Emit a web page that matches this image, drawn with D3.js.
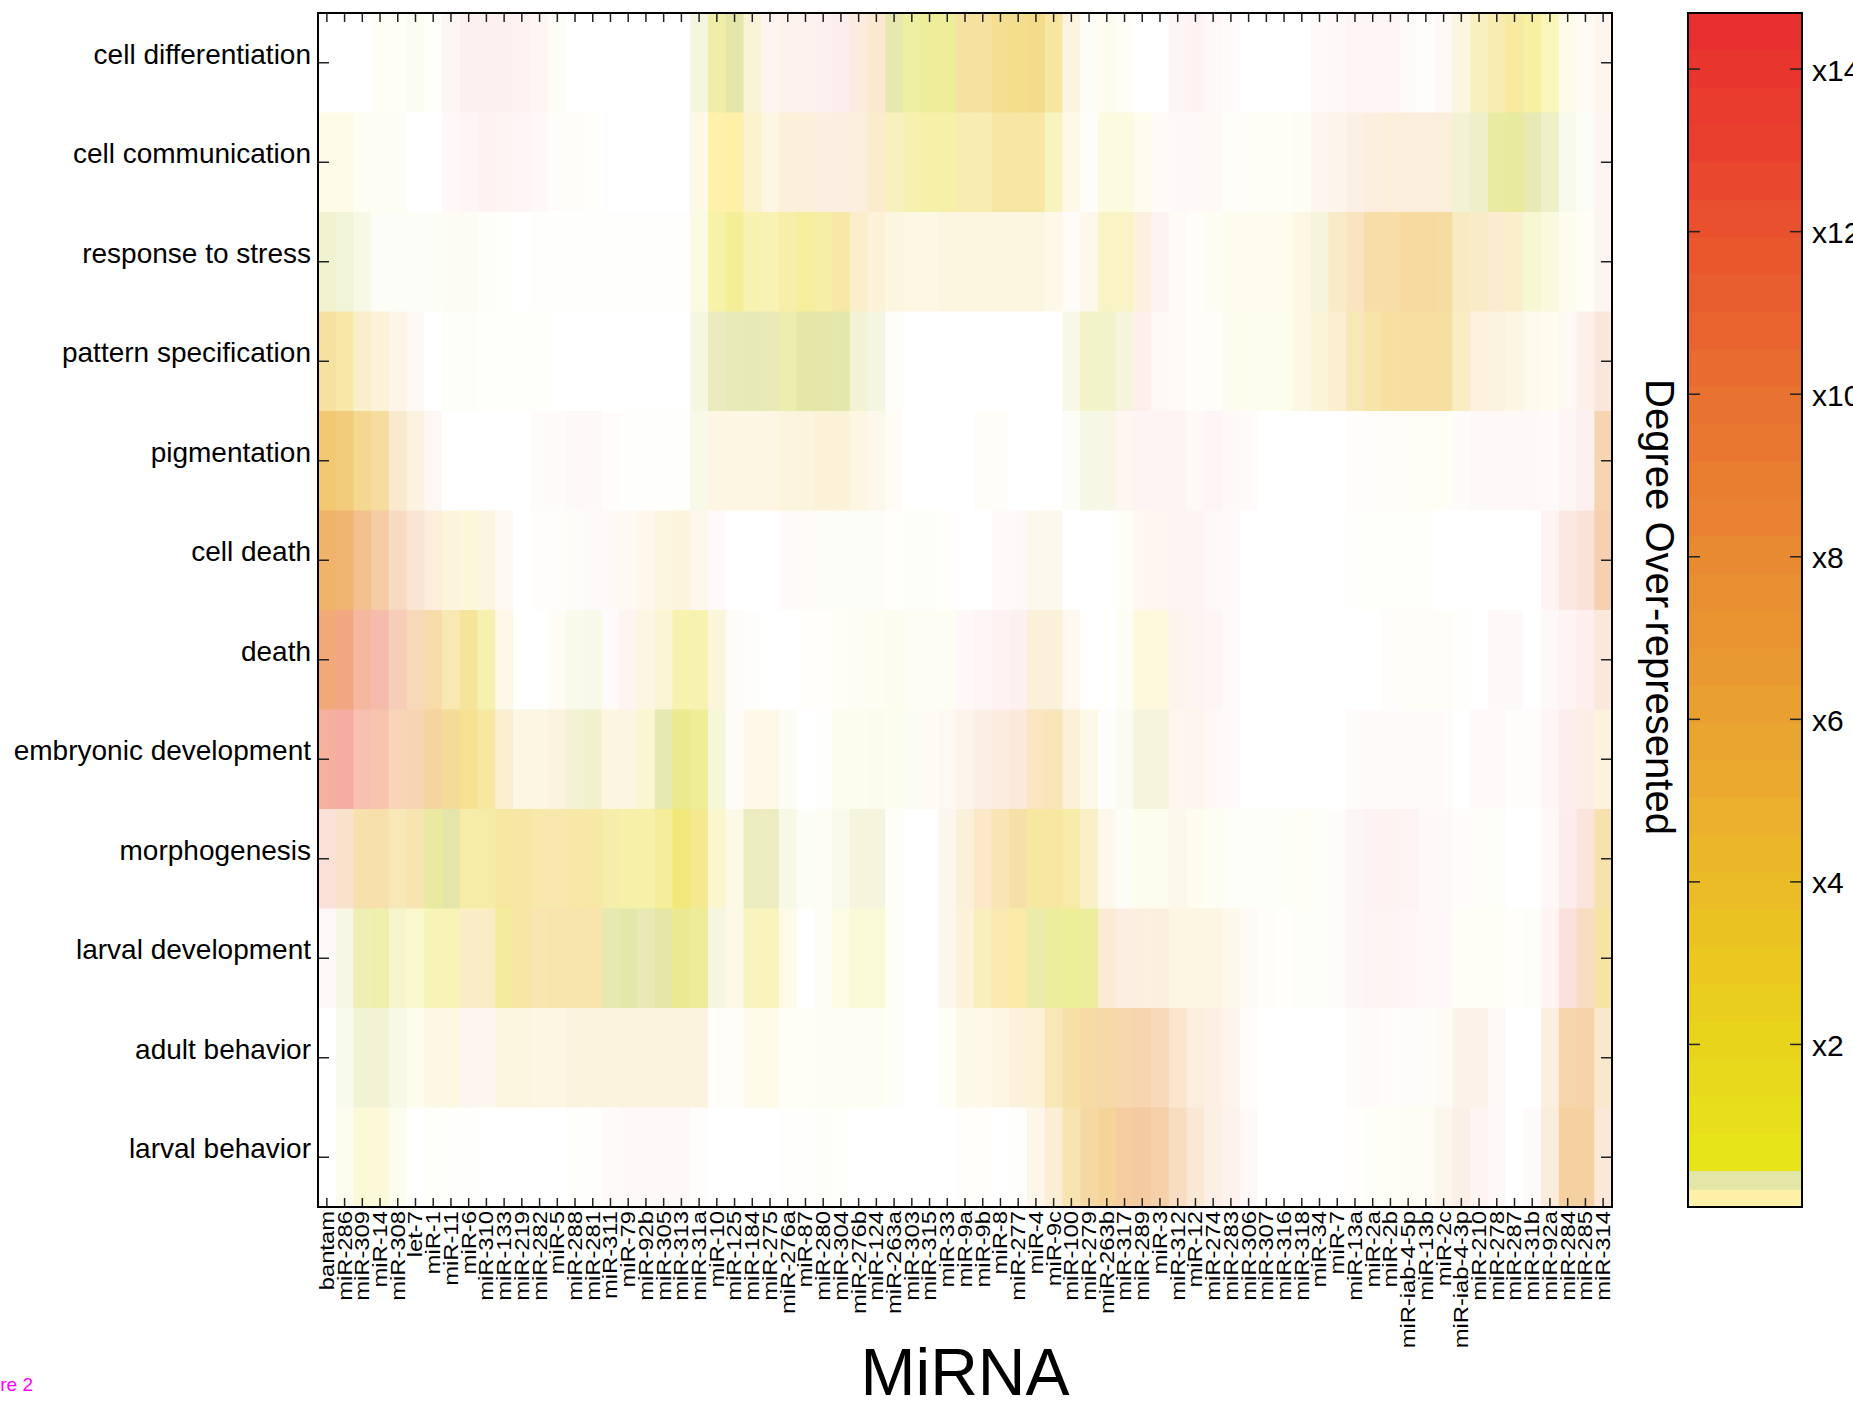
<!DOCTYPE html>
<html>
<head>
<meta charset="utf-8">
<script src="https://cdn.jsdelivr.net/npm/d3@7"></script>
<style>
  body { margin: 0; background: #fff; }
  svg { display: block; }
  text { font-family: "Liberation Sans", Arial, sans-serif; fill: #000; }
</style>
</head>
<body>
<div id="vis"></div>
<script>
// GO terms (rows) and miRNAs (columns)
var terms = ["cell differentiation", "cell communication", "response to stress", "pattern specification",
  "pigmentation", "cell death", "death", "embryonic development", "morphogenesis",
  "larval development", "adult behavior", "larval behavior"];

var mirnas = ["bantam", "miR-286", "miR-309", "miR-14", "miR-308", "let-7", "miR-1", "miR-11", "miR-6", "miR-310",
  "miR-133", "miR-219", "miR-282", "miR-5", "miR-288", "miR-281", "miR-311", "miR-79", "miR-92b", "miR-305",
  "miR-313", "miR-31a", "miR-10", "miR-125", "miR-184", "miR-275", "miR-276a", "miR-87", "miR-280", "miR-304",
  "miR-276b", "miR-124", "miR-263a", "miR-303", "miR-315", "miR-33", "miR-9a", "miR-9b", "miR-8", "miR-277",
  "miR-4", "miR-9c", "miR-100", "miR-279", "miR-263b", "miR-317", "miR-289", "miR-3", "miR-312", "miR-12",
  "miR-274", "miR-283", "miR-306", "miR-307", "miR-316", "miR-318", "miR-34", "miR-7", "miR-13a", "miR-2a",
  "miR-2b", "miR-iab-4-5p", "miR-13b", "miR-2c", "miR-iab-4-3p", "miR-210", "miR-278", "miR-287", "miR-31b", "miR-92a",
  "miR-284", "miR-285", "miR-314"];

// degree of over-representation (colour position) per cell
var foldRows = [
  [0,0,0,2,2,0.33,0.33,14.5,14.5,14.5,
   14.5,14.5,11,0.33,0,0,0,0,0,0,
   0,0.33,0.45,0.33,4,12,10.5,11,14.5,14.5,
   8.5,6,0.33,0.5,0.5,0.5,4,4,3.8,3.7,
   4,3.3,4.6,0.33,2,1,0,0,14.5,14.5,
   14.5,14.5,0,0,0,0,14.5,14.5,14.5,14.5,
   14.5,14.5,14.5,10,3.8,3,3,2.5,1.5,0.8,
   1,6,9],
  [1.7,1.7,2,2,2,0,0,14.5,14.5,14.5,
   14.5,14.5,12,5.5,5.5,1,0,0,0,0,
   0,3,0.11,0.11,3,4.2,5,5,7.7,7.7,
   5.7,5,3,1.9,1.7,1.7,3,3,3.2,3.2,
   3,1.7,3.8,5,1.5,1.5,1.5,6,14.5,11,
   11,3,3,1,1,1,7.5,8,8,7,
   6,6.5,6.5,6.5,0.33,0.33,0.4,0.4,0.33,0.33,
   0.33,0.33,12],
  [0.33,0.33,0.33,0.33,0.33,0.33,0.33,0.33,0.33,0.33,
   0.33,0,0.33,0.33,0.33,0.33,0.33,0.33,0.33,0.33,
   0.33,2.5,1.2,1.6,1.5,1.6,2,2,2.1,3.3,
   4.3,4.3,3.8,3.3,3.3,3.8,3.8,3.8,3.8,3.8,
   3.8,3.5,6,5,2.5,2.5,5.5,11.5,6,3,
   2,1.5,1.3,1.3,1.3,3.3,0.33,4.6,5.4,5.2,
   5,5,5,5,4.3,4.6,5.3,4.3,0.45,0.5,
   2,3,12],
  [4,3.3,4.3,4.3,5.7,10,0,0.33,0.33,0.33,
   0.33,0.33,0.33,0,0,0,0,0,0,0,
   0,0.33,0.33,0.33,0.33,0.33,0.4,0.35,0.33,0.33,
   0.33,0.33,5,0,0,0,0,0,0,0,
   0,0,0.33,0.4,0.4,0.33,11.5,9,7,5,
   5,2,0.8,0.8,0.8,3.3,3.5,4.8,4.2,4,
   4.3,4.3,4.3,4.3,3.8,5,5.5,4,3.3,3,
   9,10.3,10.3],
  [5.1,5.1,4.7,4.7,5.5,6,9,0,0,0,
   0,0,14.5,14.5,14.5,14.5,12,0.33,0.33,0.33,
   0.33,0.33,4.2,4.3,4.3,4.3,4,4,4.3,4.3,
   4.3,5,3,0,0,0,0,3,3,0,
   0,0,0.33,0.33,0.33,8.5,14.5,14.5,14.5,11,
   14.5,14.5,14.5,0,0,0,0,0,5,5,
   3,3,1,1,14.5,14.5,14.5,14.5,14.5,14.5,
   14.5,12.7,7.5],
  [6.8,7,7.6,8,8.8,8.5,6.6,3.8,3.3,3.8,
   5.5,0,5,5,6,12,14.5,6.8,5.3,3.8,
   3.8,5.8,14.5,0,0,0,14.5,10,0.33,0.33,
   0.33,0.33,1,1,1,1,0,0,14.5,14.5,
   5.5,5,0,0,0,1,6.2,8.5,14.5,14.5,
   14.5,14.5,0,0,0,0,0,0,0.33,0.33,
   0.33,0.33,0.33,0,0,0,0,0,0,14.5,
   11.3,11.2,8.3],
  [9.2,10,10.8,11.7,10.4,7.7,5.3,3.8,3.3,1.9,
   3.5,0,0,3,0.33,0.33,12,12,4.3,3.3,
   1.5,1.5,2.8,6,5,0,0,1,1,1,
   1,1,1,1,0.5,0.5,14.5,14.5,14.5,14.5,
   5,5,6.2,0,0,0.5,2,2,9.3,14.5,
   14.5,14.5,0,0,0,0,0,0,0,0,
   5,3,3,3,0.33,0,14.5,14.5,0,14.5,
   14.5,13.4,9.5],
  [12,12.9,11.5,10.8,8.7,7.5,6,4.5,3.5,3,
   4.8,4.3,4.3,4.7,0.33,0.33,4.2,4.2,2,0.33,
   0.45,0.5,0.4,6,3.5,3.5,0.33,0,0.33,1,
   0.7,0.5,0.5,0.33,5.5,7.5,8,9,8.7,8.5,
   5,4.8,5,3.8,0.33,0.33,0.33,0.33,8.5,7.5,
   14.5,14.5,0,0,0,0,0,0,14.5,14.5,
   14.5,14.5,14.5,14.5,0,14.5,14.5,14.5,14.5,14.5,
   14.5,9,5],
  [11.4,8,4.8,4.8,4.2,4.5,0.4,0.33,2.5,2.5,
   3,3.3,3.5,3.3,3.2,3.2,2.5,1.7,1.7,1.8,
   1.7,2.2,1.7,3.8,0.33,0.33,0.33,0.33,0.5,0.33,
   0.33,0.33,1,0,0,7.5,5,5.5,4.8,4.6,
   3,3,2.5,3.5,5,0.33,0.7,0.5,5,3,
   2,1,1,1,1,1,0.5,9,14.5,14.5,
   14.5,14.5,14.5,14.5,12,5,1,0,0,14.5,
   14.5,11,4.6],
  [14.5,0.33,0.4,0.45,0.45,1.4,1.6,1.6,4.3,4.3,
   2.2,3.2,4.2,4.1,4.1,4.1,0.33,0.33,0.33,0.35,
   0.45,0.45,0.33,3.8,1.6,1.6,1.5,0,1,1.5,
   1,1,1,0,0,7.5,4.3,3,3.4,2.8,
   0.4,0.45,0.5,0.45,6,7.7,7.3,7,4.3,4.3,
   4.3,5,6,5,1,1,0.5,9,14.5,14.5,
   14.5,14.5,14.5,14.5,3,3,1,1,1,12,
   12.7,7.8,3.8],
  [0,0.33,0.33,0.33,0.33,1.7,3.3,3.3,7.5,7.5,
   3.8,3.8,4.3,4.3,4.7,4.7,4.7,4.7,4.7,4.7,
   4.7,4.7,3,3,1.7,1.7,1,1,0.5,0.5,
   0.5,0.5,1,0,0,2,3.8,3.8,4.3,5,
   4.3,4.2,4.5,5.2,5.8,6.5,7.5,7.5,6.6,6.6,
   7.8,9.3,10,0,0,0,0,0,14.5,14.5,
   10,8,6,6,8.8,8.8,11,0,0,7.3,
   6.6,6.8,6],
  [0,1,1.4,1.4,1,0,0.33,0.33,0.33,0,
   0,0,0,0,0.33,0.33,14.5,14.5,14.5,14.5,
   14.5,14.5,0,0,0,0,0.33,0.33,0.33,0.33,
   0,0,0,0,0,0,1,1,0,0.33,
   5.7,5.3,4.5,5.5,5.5,7.2,7.8,7.5,7.8,7.5,
   8.3,11,14.5,0,0,0,0,0,1,1,
   1,1,0.5,6.5,8.5,12,14.5,0,12,7.5,
   6.7,6.7,8.3]
];

// strength of each cell (how far it is from white)
var alphaRows = [
  [0,0,0,0.04,0.04,0.14,0.05,0.05,0.07,0.07,
   0.07,0.06,0.06,0.1,0,0,0,0,0,0,
   0,0.36,0.64,1,0.18,0.06,0.09,0.08,0.07,0.08,
   0.15,0.23,0.91,0.6,0.65,0.65,0.44,0.44,0.51,0.53,
   0.53,0.43,0.15,0.1,0.07,0.04,0,0,0.045,0.06,
   0.035,0.02,0,0,0,0,0.025,0.035,0.05,0.045,
   0.045,0.025,0.015,0.045,0.14,0.28,0.35,0.42,0.42,0.31,
   0.1,0.045,0.08],
  [0.1,0.1,0.05,0.05,0.045,0,0,0.035,0.045,0.06,
   0.055,0.045,0.035,0.025,0.025,0.02,0,0,0,0,
   0,0.11,0.95,1,0.23,0.13,0.18,0.18,0.15,0.15,
   0.17,0.24,0.28,0.35,0.38,0.38,0.35,0.35,0.41,0.41,
   0.41,0.28,0.1,0.03,0.14,0.14,0.08,0.04,0.035,0.04,
   0.04,0.03,0.03,0.04,0.04,0.05,0.08,0.09,0.13,0.15,
   0.17,0.17,0.17,0.17,0.5,0.6,0.8,0.84,0.86,0.62,
   0.2,0.1,0.06],
  [0.54,0.45,0.29,0.1,0.08,0.08,0.08,0.12,0.12,0.06,
   0.05,0,0.03,0.03,0.03,0.03,0.03,0.03,0.03,0.03,
   0.03,0.12,0.38,0.45,0.35,0.33,0.38,0.43,0.4,0.39,
   0.24,0.18,0.14,0.12,0.12,0.14,0.14,0.14,0.14,0.14,
   0.14,0.11,0.03,0.09,0.26,0.26,0.16,0.07,0.04,0.03,
   0.05,0.07,0.08,0.08,0.08,0.12,0.4,0.26,0.31,0.41,
   0.42,0.46,0.46,0.44,0.29,0.26,0.22,0.24,0.32,0.22,
   0.07,0.04,0.06],
  [0.44,0.39,0.24,0.18,0.11,0.05,0,0.06,0.06,0.05,
   0.05,0.05,0.05,0,0,0,0,0,0,0,
   0,0.33,0.76,0.82,0.84,0.82,0.7,0.95,1,0.95,
   0.5,0.35,0.03,0,0,0,0,0,0,0,
   0,0,0.3,0.5,0.48,0.4,0.09,0.05,0.04,0.03,
   0.03,0.06,0.08,0.08,0.08,0.12,0.18,0.22,0.33,0.4,
   0.44,0.44,0.44,0.44,0.27,0.16,0.15,0.13,0.08,0.07,
   0.05,0.1,0.17],
  [0.67,0.63,0.52,0.46,0.24,0.14,0.05,0,0,0,
   0,0,0.02,0.02,0.03,0.03,0.02,0.04,0.03,0.03,
   0.03,0.26,0.13,0.13,0.13,0.13,0.16,0.16,0.18,0.18,
   0.13,0.09,0.05,0,0,0,0,0.03,0.03,0,
   0,0,0.1,0.31,0.31,0.07,0.055,0.055,0.055,0.04,
   0.045,0.035,0.02,0,0,0,0,0,0.02,0.025,
   0.03,0.03,0.04,0.04,0.02,0.03,0.035,0.035,0.035,0.025,
   0.05,0.08,0.38],
  [0.73,0.69,0.55,0.44,0.3,0.21,0.17,0.16,0.16,0.14,
   0.06,0,0.02,0.03,0.03,0.03,0.03,0.06,0.09,0.14,
   0.16,0.08,0.025,0,0,0,0.02,0.03,0.08,0.08,
   0.08,0.1,0.02,0.03,0.03,0.02,0,0,0.025,0.035,
   0.08,0.09,0,0,0,0.03,0.07,0.07,0.055,0.055,
   0.03,0.025,0,0,0,0,0,0,0.05,0.05,
   0.05,0.05,0.05,0,0,0,0,0,0,0.055,
   0.14,0.18,0.38],
  [0.65,0.61,0.46,0.4,0.34,0.34,0.41,0.36,0.46,0.35,
   0.11,0,0,0.05,0.22,0.26,0.03,0.06,0.13,0.19,
   0.35,0.35,0.17,0.03,0.02,0,0,0.02,0.02,0.04,
   0.05,0.06,0.07,0.05,0.07,0.07,0.035,0.045,0.06,0.07,
   0.18,0.18,0.07,0,0,0.08,0.15,0.15,0.08,0.055,
   0.05,0.025,0,0,0,0,0,0,0,0,
   0.02,0.03,0.03,0.03,0.03,0,0.035,0.03,0,0.03,
   0.055,0.08,0.17],
  [0.46,0.44,0.38,0.38,0.34,0.38,0.46,0.48,0.5,0.42,
   0.22,0.13,0.13,0.15,0.5,0.55,0.14,0.14,0.21,0.9,
   0.82,0.66,0.34,0.03,0.11,0.11,0.13,0,0.04,0.07,
   0.08,0.12,0.1,0.13,0.05,0.06,0.09,0.13,0.15,0.17,
   0.31,0.33,0.19,0.1,0.06,0.15,0.4,0.4,0.07,0.08,
   0.035,0.025,0,0,0,0,0,0,0.02,0.02,
   0.02,0.02,0.02,0.02,0,0.025,0.025,0.015,0.015,0.05,
   0.08,0.13,0.16],
  [0.19,0.25,0.4,0.4,0.33,0.37,0.83,1,0.39,0.39,
   0.42,0.41,0.38,0.37,0.39,0.4,0.38,0.38,0.38,0.45,
   0.59,0.49,0.21,0.1,0.72,0.72,0.3,0.1,0.07,0.22,
   0.4,0.4,0.04,0,0,0.08,0.18,0.26,0.35,0.41,
   0.42,0.42,0.39,0.25,0.09,0.08,0.08,0.1,0.09,0.07,
   0.05,0.03,0.03,0.03,0.03,0.04,0.04,0.025,0.045,0.06,
   0.06,0.055,0.035,0.035,0.02,0.03,0.03,0,0,0.035,
   0.09,0.17,0.38],
  [0.03,0.31,0.65,0.6,0.38,0.21,0.32,0.32,0.26,0.26,
   0.44,0.41,0.37,0.38,0.38,0.38,0.9,0.95,0.86,0.95,
   0.8,0.75,0.35,0.1,0.28,0.3,0.11,0,0.05,0.12,
   0.17,0.17,0.04,0,0,0.08,0.18,0.3,0.36,0.39,
   0.75,0.7,0.66,0.7,0.21,0.15,0.15,0.15,0.13,0.13,
   0.13,0.09,0.04,0.025,0.02,0.03,0.04,0.025,0.045,0.055,
   0.055,0.045,0.035,0.035,0.04,0.04,0.04,0.02,0.03,0.06,
   0.17,0.3,0.42],
  [0,0.2,0.48,0.48,0.3,0.08,0.12,0.12,0.08,0.08,
   0.14,0.14,0.13,0.13,0.15,0.15,0.15,0.15,0.15,0.15,
   0.15,0.15,0.03,0.03,0.1,0.1,0.04,0.04,0.06,0.07,
   0.08,0.08,0.03,0,0,0.04,0.1,0.1,0.13,0.17,
   0.18,0.33,0.42,0.43,0.42,0.4,0.38,0.34,0.25,0.17,
   0.13,0.08,0.02,0,0,0,0,0,0.02,0.02,
   0.02,0.025,0.03,0.04,0.1,0.1,0.04,0,0,0.15,
   0.4,0.42,0.25],
  [0,0.07,0.17,0.17,0.07,0,0.05,0.05,0.03,0,
   0,0,0,0,0.05,0.03,0.02,0.03,0.03,0.03,
   0.03,0.015,0,0,0,0,0.04,0.04,0.07,0.05,
   0,0,0,0,0,0,0.02,0.02,0,0.03,
   0.1,0.2,0.37,0.45,0.49,0.46,0.46,0.42,0.3,0.21,
   0.13,0.08,0.035,0,0,0,0,0,0.02,0.03,
   0.04,0.05,0.06,0.09,0.12,0.06,0.035,0,0.03,0.17,
   0.46,0.46,0.19]
];

// colour map (as on the colour bar) and its ticks
var cmapStops = [0, 0.11, 0.33, 0.68, 1, 2, 3, 4, 5, 6, 7, 8, 9, 10, 11, 12, 13, 14.69];
var cmapColors = ["#fff0a8", "#fff0a8", "#e3e6a8", "#e8e41a", "#e8e01b", "#e9d51c", "#eac81f", "#ebbb26",
  "#ebae2e", "#eaa131", "#e99531", "#e88a31", "#e97c30", "#e8702f", "#e9612e", "#e9532d", "#e9412e", "#e82e2e"];
var cbTicks = [2, 4, 6, 8, 10, 12, 14];
var cbMax = 14.69;

var W = 1853, H = 1402;
var plot = {left: 318, top: 13, right: 1612, bottom: 1207};
var cb = {left: 1688, right: 1802};

var svg = d3.select("#vis").append("svg")
    .attr("width", W)
    .attr("height", H);

var x = d3.scaleBand().domain(d3.range(mirnas.length)).range([plot.left, plot.right]);
var y = d3.scaleBand().domain(d3.range(terms.length)).range([plot.top, plot.bottom]);

var cmap = d3.scaleLinear().domain(cmapStops).range(cmapColors)
    .interpolate(d3.interpolateRgb).clamp(true);

function cellColor(v, a) {
  return d3.interpolateRgb("#ffffff", cmap(v))(a);
}

// heatmap cells
var cells = [];
foldRows.forEach(function(row, i) {
  row.forEach(function(v, j) {
    cells.push({row: i, col: j, v: v, a: alphaRows[i][j]});
  });
});

svg.append("g").selectAll("rect")
  .data(cells)
  .enter().append("rect")
    .attr("x", function(d) { return x(d.col); })
    .attr("y", function(d) { return y(d.row); })
    .attr("width", x.bandwidth() + 0.6)
    .attr("height", y.bandwidth() + 0.6)
    .style("fill", function(d) { return cellColor(d.v, d.a); });

// ticks (inside, on all four sides)
var ticks = svg.append("g").attr("stroke", "#222").attr("stroke-width", 1.5);
mirnas.forEach(function(m, j) {
  var cx = x(j) + x.bandwidth() / 2;
  ticks.append("line").attr("x1", cx).attr("x2", cx).attr("y1", plot.bottom).attr("y2", plot.bottom - 9);
  ticks.append("line").attr("x1", cx).attr("x2", cx).attr("y1", plot.top).attr("y2", plot.top + 9);
});
terms.forEach(function(t, i) {
  var cy = y(i) + y.bandwidth() / 2;
  ticks.append("line").attr("x1", plot.left).attr("x2", plot.left + 11).attr("y1", cy).attr("y2", cy);
  ticks.append("line").attr("x1", plot.right).attr("x2", plot.right - 11).attr("y1", cy).attr("y2", cy);
});

svg.append("rect")
  .attr("x", plot.left).attr("y", plot.top)
  .attr("width", plot.right - plot.left).attr("height", plot.bottom - plot.top)
  .attr("fill", "none").attr("stroke", "#000").attr("stroke-width", 2);

// row labels
svg.append("g").selectAll("text")
  .data(terms)
  .enter().append("text")
    .attr("x", plot.left - 7)
    .attr("y", function(d, i) { return y(i) + y.bandwidth() / 2 + 1; })
    .attr("text-anchor", "end")
    .style("font-size", "28px")
    .text(function(d) { return d; });

// column labels (narrow glyphs, stretched along the text)
svg.append("g").selectAll("text")
  .data(mirnas)
  .enter().append("text")
    .attr("transform", function(d, j) {
      return "translate(" + (x(j) + x.bandwidth() / 2) + "," + (plot.bottom + 4) + ") rotate(-90) scale(1.16,1)";
    })
    .attr("text-anchor", "end")
    .attr("dominant-baseline", "central")
    .style("font-size", "20.5px")
    .text(function(d) { return d; });

svg.append("text")
  .attr("x", (plot.left + plot.right) / 2)
  .attr("y", 1395)
  .attr("text-anchor", "middle")
  .style("font-size", "66px")
  .text("MiRNA");

// colour bar
var cbY = d3.scaleLinear().domain([0, cbMax]).range([plot.bottom, plot.top]);
var bandEdges = [0, 0.22, 0.45];
var step = (cbMax - 0.45) / 31;
for (var k = 1; k <= 31; k++) bandEdges.push(0.45 + k * step);
var bands = d3.pairs(bandEdges);

svg.append("g").selectAll("rect")
  .data(bands)
  .enter().append("rect")
    .attr("x", cb.left)
    .attr("width", cb.right - cb.left)
    .attr("y", function(d) { return cbY(d[1]); })
    .attr("height", function(d) { return cbY(d[0]) - cbY(d[1]) + 0.6; })
    .style("fill", function(d) { return cmap((d[0] + d[1]) / 2); });

var cbTickG = svg.append("g").attr("stroke", "#222").attr("stroke-width", 1.5);
cbTicks.forEach(function(t) {
  cbTickG.append("line").attr("x1", cb.left).attr("x2", cb.left + 12).attr("y1", cbY(t)).attr("y2", cbY(t));
  cbTickG.append("line").attr("x1", cb.right).attr("x2", cb.right - 12).attr("y1", cbY(t)).attr("y2", cbY(t));
});

svg.append("rect")
  .attr("x", cb.left).attr("y", plot.top)
  .attr("width", cb.right - cb.left).attr("height", plot.bottom - plot.top)
  .attr("fill", "none").attr("stroke", "#000").attr("stroke-width", 2);

svg.append("g").selectAll("text")
  .data(cbTicks)
  .enter().append("text")
    .attr("x", cb.right + 10)
    .attr("y", function(d) { return cbY(d) + 1; })
    .attr("dominant-baseline", "central")
    .style("font-size", "30px")
    .text(function(d) { return "x" + d; });

svg.append("text")
  .attr("transform", "translate(1660,607) rotate(90)")
  .attr("text-anchor", "middle")
  .attr("dominant-baseline", "central")
  .style("font-size", "40px")
  .text("Degree Over-represented");

svg.append("text")
  .attr("x", 33)
  .attr("y", 1391)
  .attr("text-anchor", "end")
  .style("font-size", "19px")
  .style("fill", "#ff00ff")
  .text("Figure 2");
</script>
</body>
</html>
